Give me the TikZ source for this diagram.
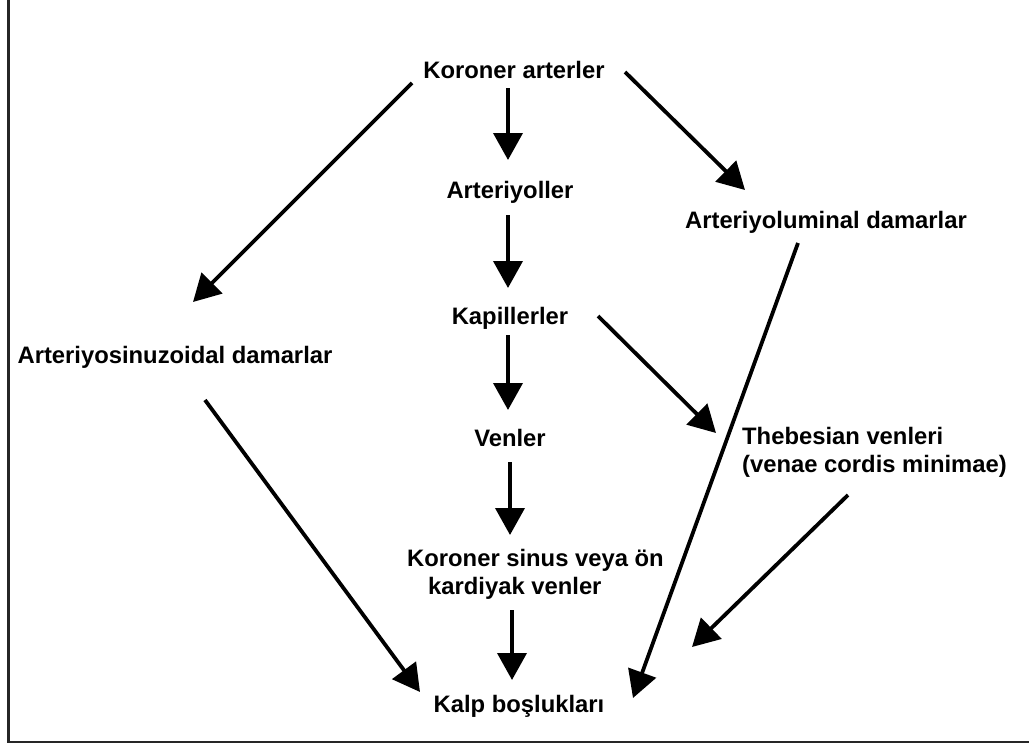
\documentclass[tikz,border=0pt]{standalone}
\usepackage{fontspec}
\setmainfont{Liberation Sans}
\usetikzlibrary{arrows.meta}
\tikzset{
  lbl/.style={inner sep=0pt, font=\bfseries\fontsize{23.8}{28}\selectfont},
  arr/.style={line width=3.8pt, -{Triangle[length=27pt,width=29pt]}},
}
\begin{document}
\begin{tikzpicture}[x=1pt,y=-1pt]
\useasboundingbox (0,0) rectangle (1029,747);
\draw[line width=2.5pt, black!85] (8.5,0) -- (8.5,742) -- (1029,742);

\node[lbl] (kor) at (514,70) {Koroner arterler};
\node[lbl] (art) at (510,192) {Arteriyoller};
\node[lbl] (alum) at (826,222) {Arteriyoluminal damarlar};
\node[lbl] (asin) at (175,357) {Arteriyosinuzoidal damarlar};
\node[lbl] (kap) at (510,318) {Kapillerler};
\node[lbl] (ven) at (510,438) {Venler};
\node[lbl, align=left, anchor=west] (theb) at (742,452) {Thebesian venleri\\(venae cordis minimae)};
\node[lbl, align=left, anchor=west] (ks) at (407,574) {Koroner sinus veya ön\\\hspace*{21pt}kardiyak venler};
\node[lbl] (kalp) at (519,706) {Kalp boşlukları};

\draw[arr] ([shift={(-6,18)}]kor.center) -- ([shift={(-2,-32)}]art.center);
\draw[arr] ([shift={(-2,23)}]art.center) -- ([shift={(-2,-30)}]kap.center);
\draw[arr] ([shift={(-2,17)}]kap.center) -- ([shift={(-2,-28)}]ven.center);
\draw[arr] ([shift={(0,24)}]ven.center) -- ([shift={(103,-39)}]ks.west);
\draw[arr] ([shift={(105,36)}]ks.west) -- ([shift={(-7,-26)}]kalp.center);
\draw[arr] ([shift={(-102,13)}]kor.center) -- ([shift={(18,-55)}]asin.center);
\draw[arr] ([shift={(111,2)}]kor.center) -- ([shift={(-81,-32)}]alum.center);
\draw[arr] ([shift={(30,43)}]asin.center) -- ([shift={(-99,-14)}]kalp.center);
\draw[arr] ([shift={(-28,21)}]alum.center) -- ([shift={(114,-8)}]kalp.center);
\draw[arr] ([shift={(88,-2)}]kap.center) -- ([shift={(-26,-19)}]theb.west);
\draw[arr] ([shift={(106,43)}]theb.west) -- ([shift={(173,-59)}]kalp.center);
\end{tikzpicture}
\end{document}
